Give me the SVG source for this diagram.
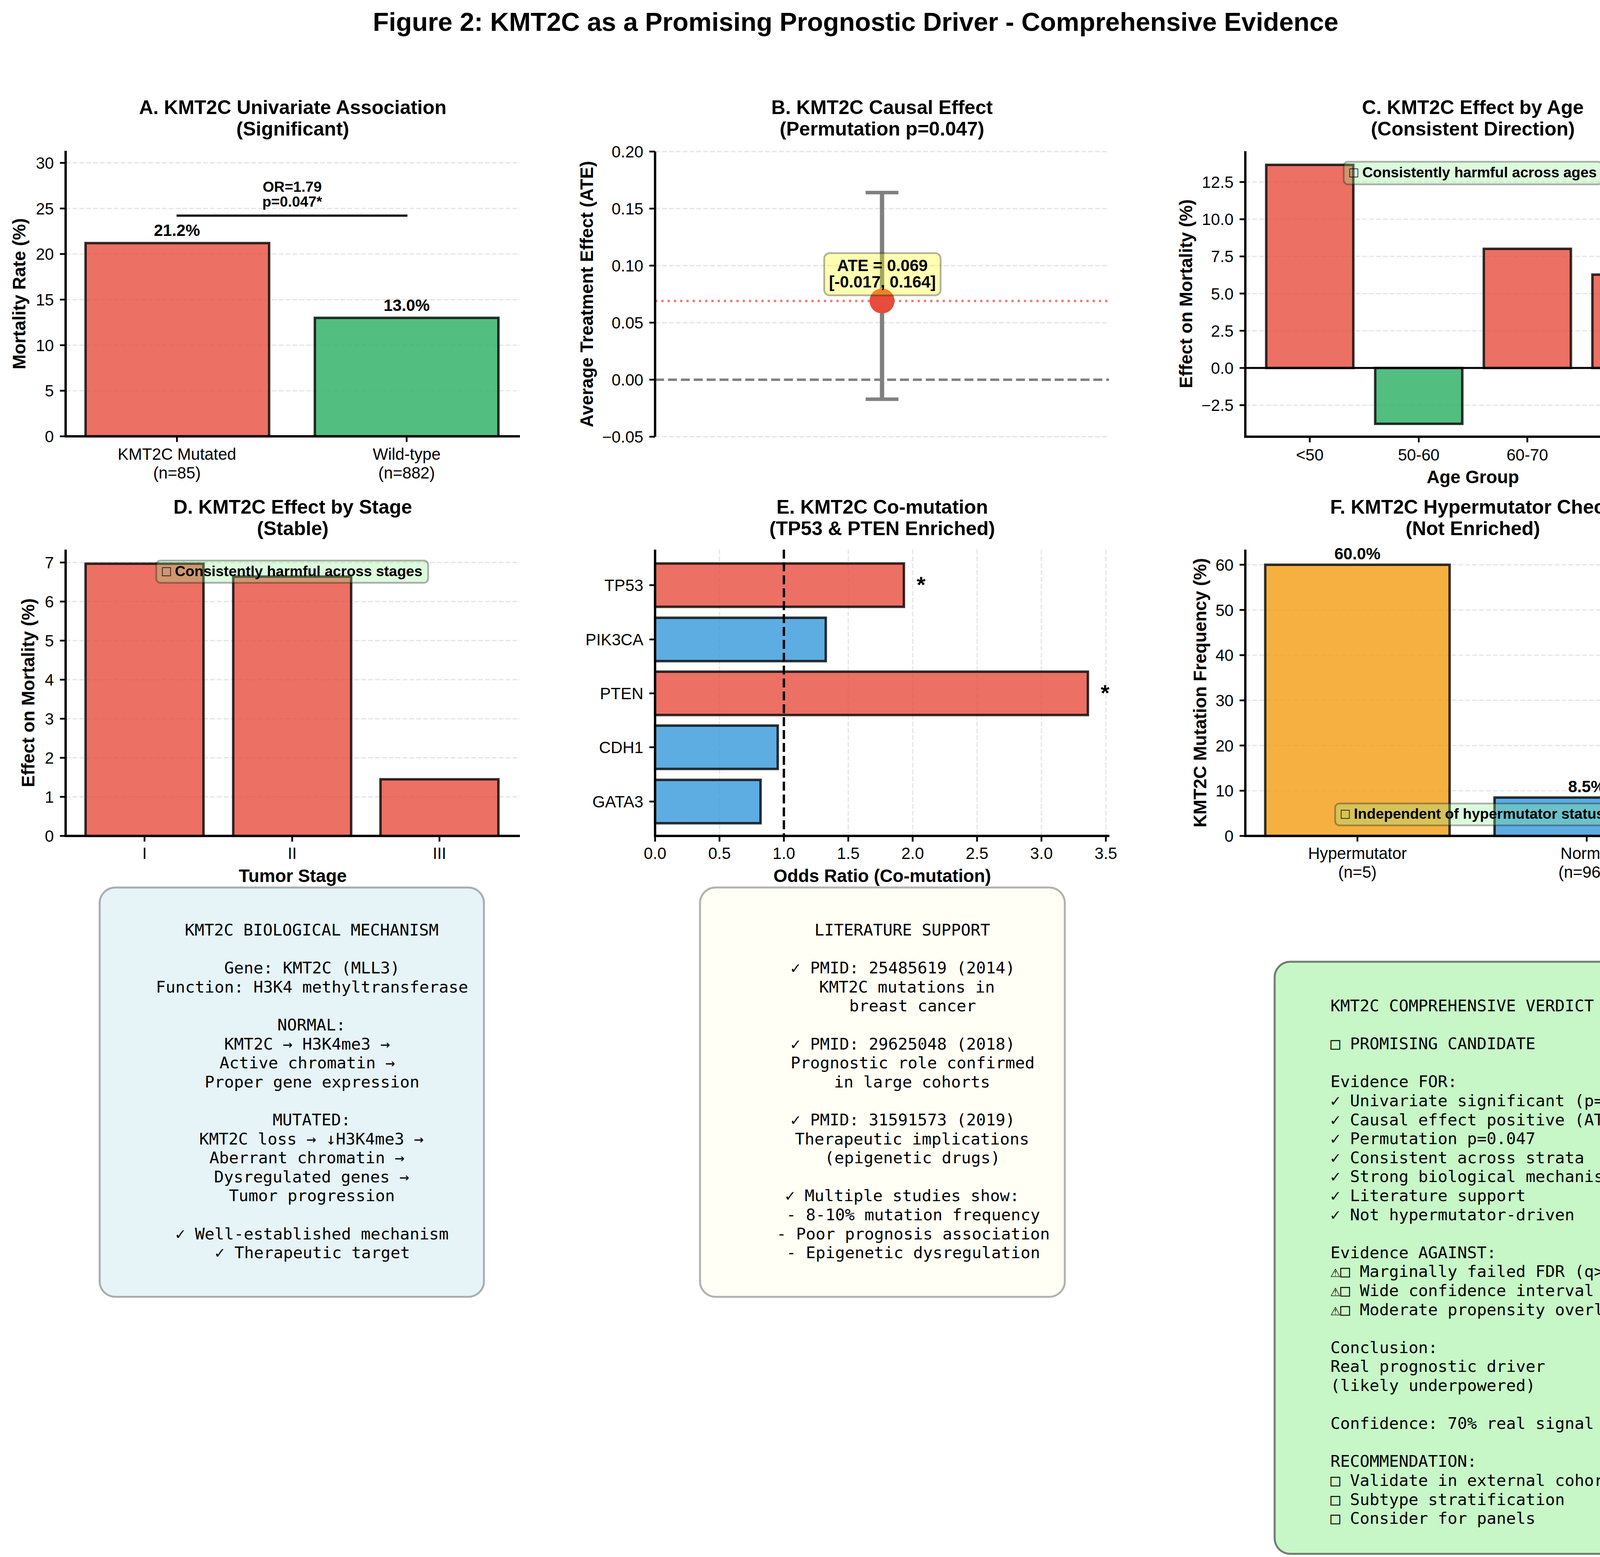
<svg xmlns="http://www.w3.org/2000/svg" width="4381" height="3986" viewBox="0 0 4381 3986">
<style>
text{font-family:"Liberation Sans",Arial,sans-serif;fill:#000}
.tk{font-size:41.7px}
.tr{text-anchor:end}
.tm{text-anchor:middle}
.ti{font-size:50px;font-weight:bold;text-anchor:middle}
.lb{font-size:45.8px;font-weight:bold;text-anchor:middle}
.vl{font-size:41.7px;font-weight:bold;text-anchor:middle}
.an{font-size:37.5px;font-weight:bold;text-anchor:middle}
.mono text{font-family:"DejaVu Sans Mono",monospace;font-size:41.5px}
.sp{stroke:#000;stroke-width:6;fill:none}
.tc{stroke:#000;stroke-width:4.5;fill:none}
.gr{stroke:#b0b0b0;stroke-opacity:0.3;stroke-width:3.3;stroke-dasharray:12.3 5.3;fill:none}
.bar{stroke:#000;stroke-opacity:0.8;stroke-width:6.25;fill-opacity:0.8}
.red{fill:#e74c3c}.grn{fill:#27ae60}.blu{fill:#3498db}.org{fill:#f39c12}
.gbox{fill:#90ee90;fill-opacity:0.3;stroke:#000;stroke-opacity:0.3;stroke-width:4.5}
</style>
<rect x="0" y="0" width="4381" height="3986" fill="#fff"/>
<text id="fig-title" x="2190.5" y="79" style="font-size:66.7px;font-weight:bold;text-anchor:middle">Figure 2: KMT2C as a Promising Prognostic Driver - Comprehensive Evidence</text>

<g id="panel-a">
<path class="gr" d="M168,1000.3H1331M168,883.7H1331M168,767H1331M168,650.3H1331M168,533.7H1331M168,417H1331"/>
<rect class="bar red" x="219" y="622.3" width="470" height="494.7"/>
<rect class="bar grn" x="806" y="813.7" width="470" height="303.3"/>
<path class="sp" d="M168,386V1117H1331"/>
<path class="tc" d="M153.4,1117h14.6M153.4,1000.3h14.6M153.4,883.7h14.6M153.4,767h14.6M153.4,650.3h14.6M153.4,533.7h14.6M153.4,417h14.6M453,1117v14.6M1041,1117v14.6"/>
<g class="tk tr"><text x="138" y="1132">0</text><text x="138" y="1015.3">5</text><text x="138" y="898.7">10</text><text x="138" y="782">15</text><text x="138" y="665.3">20</text><text x="138" y="548.7">25</text><text x="138" y="432">30</text></g>
<g class="tk tm"><text x="453" y="1177">KMT2C Mutated</text><text x="453" y="1225">(n=85)</text><text x="1041" y="1177">Wild-type</text><text x="1041" y="1225">(n=882)</text></g>
<text class="vl" x="453" y="604">21.2%</text>
<text class="vl" x="1041" y="796">13.0%</text>
<line x1="452" y1="552" x2="1043" y2="552" stroke="#000" stroke-width="5.5"/>
<text class="an" x="748" y="491">OR=1.79</text>
<text class="an" x="748" y="529">p=0.047*</text>
<text class="lb" transform="translate(65,752) rotate(-90)">Mortality Rate (%)</text>
<text class="ti" x="749.5" y="292">A. KMT2C Univariate Association</text>
<text class="ti" x="749.5" y="347">(Significant)</text>
</g>

<g id="panel-b">
<path class="gr" d="M1677,388H2839M1677,534H2839M1677,680H2839M1677,826H2839M1677,1118H2839"/>
<line x1="1677" y1="972" x2="2839" y2="972" stroke="#808080" stroke-width="6.25" stroke-dasharray="23 10"/>
<line x1="1677" y1="770.5" x2="2839" y2="770.5" stroke="#e74c3c" stroke-opacity="0.7" stroke-width="6" stroke-dasharray="6 10"/>
<line x1="2258" y1="493" x2="2258" y2="1022" stroke="#808080" stroke-width="11"/>
<path d="M2216,493H2300M2216,1022H2300" stroke="#808080" stroke-width="9"/>
<circle cx="2258" cy="770.5" r="32" fill="#e74c3c"/>
<rect x="2110" y="648" width="298" height="108" rx="14" fill="#ffff00" fill-opacity="0.3" stroke="#000" stroke-opacity="0.3" stroke-width="4.5"/>
<text class="vl" x="2259" y="694">ATE = 0.069</text>
<text class="vl" x="2259" y="736">[-0.017, 0.164]</text>
<path class="sp" d="M1677,388V1118"/>
<path class="tc" d="M1662.4,388h14.6M1662.4,534h14.6M1662.4,680h14.6M1662.4,826h14.6M1662.4,972h14.6M1662.4,1118h14.6"/>
<g class="tk tr"><text x="1647" y="403">0.20</text><text x="1647" y="549">0.15</text><text x="1647" y="695">0.10</text><text x="1647" y="841">0.05</text><text x="1647" y="987">0.00</text><text x="1647" y="1133">−0.05</text></g>
<text class="lb" transform="translate(1518,753) rotate(-90)">Average Treatment Effect (ATE)</text>
<text class="ti" x="2258" y="292">B. KMT2C Causal Effect</text>
<text class="ti" x="2258" y="347">(Permutation p=0.047)</text>
</g>

<g id="panel-c">
<path class="gr" d="M3188,1037.2H4353M3188,846.8H4353M3188,751.6H4353M3188,656.4H4353M3188,561.2H4353M3188,466H4353"/>
<rect class="bar red" x="3241.5" y="422" width="223" height="520"/>
<rect class="bar grn" x="3520.5" y="942" width="223" height="143"/>
<rect class="bar red" x="3798.5" y="637" width="223" height="305"/>
<rect class="bar red" x="4076.5" y="703" width="223" height="239"/>
<line x1="3188" y1="942" x2="4353" y2="942" stroke="#000" stroke-width="5"/>
<rect class="gbox" x="3440" y="414" width="662" height="58" rx="11"/>
<text class="an" x="3771" y="454">□ Consistently harmful across ages</text>
<path class="sp" d="M3188,387V1118H4353"/>
<path class="tc" d="M3173.4,1037.2h14.6M3173.4,942h14.6M3173.4,846.8h14.6M3173.4,751.6h14.6M3173.4,656.4h14.6M3173.4,561.2h14.6M3173.4,466h14.6M3353,1118v14.6M3632,1118v14.6M3910,1118v14.6M4188,1118v14.6"/>
<g class="tk tr"><text x="3158" y="1052.2">−2.5</text><text x="3158" y="957">0.0</text><text x="3158" y="861.8">2.5</text><text x="3158" y="766.6">5.0</text><text x="3158" y="671.4">7.5</text><text x="3158" y="576.2">10.0</text><text x="3158" y="481">12.5</text></g>
<g class="tk tm"><text x="3353" y="1179">&lt;50</text><text x="3632" y="1179">50-60</text><text x="3910" y="1179">60-70</text><text x="4188" y="1179">70+</text></g>
<text class="lb" x="3770.5" y="1237">Age Group</text>
<text class="lb" transform="translate(3052,752) rotate(-90)">Effect on Mortality (%)</text>
<text class="ti" x="3770.5" y="292">C. KMT2C Effect by Age</text>
<text class="ti" x="3770.5" y="347">(Consistent Direction)</text>
</g>

<g id="panel-d">
<path class="gr" d="M168,2040H1331M168,1940H1331M168,1840H1331M168,1740H1331M168,1640H1331M168,1540H1331M168,1440H1331"/>
<rect class="bar red" x="219" y="1443" width="302" height="697"/>
<rect class="bar red" x="597" y="1476" width="302" height="664"/>
<rect class="bar red" x="974" y="1995" width="302" height="145"/>
<rect class="gbox" x="400" y="1435" width="696" height="57" rx="11"/>
<text class="an" x="748" y="1475">□ Consistently harmful across stages</text>
<path class="sp" d="M168,1407V2140H1331"/>
<path class="tc" d="M153.4,2140h14.6M153.4,2040h14.6M153.4,1940h14.6M153.4,1840h14.6M153.4,1740h14.6M153.4,1640h14.6M153.4,1540h14.6M153.4,1440h14.6M370,2140v14.6M748,2140v14.6M1125,2140v14.6"/>
<g class="tk tr"><text x="138" y="2155">0</text><text x="138" y="2055">1</text><text x="138" y="1955">2</text><text x="138" y="1855">3</text><text x="138" y="1755">4</text><text x="138" y="1655">5</text><text x="138" y="1555">6</text><text x="138" y="1455">7</text></g>
<g class="tk tm"><text x="370" y="2199">I</text><text x="748" y="2199">II</text><text x="1125" y="2199">III</text></g>
<text class="lb" x="749.5" y="2258">Tumor Stage</text>
<text class="lb" transform="translate(88,1773.5) rotate(-90)">Effect on Mortality (%)</text>
<text class="ti" x="749.5" y="1315">D. KMT2C Effect by Stage</text>
<text class="ti" x="749.5" y="1370">(Stable)</text>
</g>

<g id="panel-e">
<path class="gr" d="M1841.9,1407V2140M2171.6,1407V2140M2336.4,1407V2140M2501.3,1407V2140M2666.1,1407V2140M2831,1407V2140"/>
<rect class="bar red" x="1677" y="1442.5" width="637" height="111"/>
<rect class="bar blu" x="1677" y="1581.5" width="437" height="111"/>
<rect class="bar red" x="1677" y="1719.5" width="1108" height="111"/>
<rect class="bar blu" x="1677" y="1857.5" width="314" height="111"/>
<rect class="bar blu" x="1677" y="1996.5" width="270" height="111"/>
<line x1="2006.7" y1="1407" x2="2006.7" y2="2140" stroke="#000" stroke-width="6" stroke-dasharray="23 10"/>
<text x="2358" y="1517" style="font-size:58px;font-weight:bold;text-anchor:middle">*</text>
<text x="2829" y="1794" style="font-size:58px;font-weight:bold;text-anchor:middle">*</text>
<path class="sp" d="M1677,1407V2140H2840"/>
<path class="tc" d="M1662.4,1498h14.6M1662.4,1637h14.6M1662.4,1775h14.6M1662.4,1913h14.6M1662.4,2052h14.6M1677,2140v14.6M1841.9,2140v14.6M2006.7,2140v14.6M2171.6,2140v14.6M2336.4,2140v14.6M2501.3,2140v14.6M2666.1,2140v14.6M2831,2140v14.6"/>
<g class="tk tr"><text x="1647" y="1513">TP53</text><text x="1647" y="1652">PIK3CA</text><text x="1647" y="1790">PTEN</text><text x="1647" y="1928">CDH1</text><text x="1647" y="2067">GATA3</text></g>
<g class="tk tm"><text x="1677" y="2199">0.0</text><text x="1841.9" y="2199">0.5</text><text x="2006.7" y="2199">1.0</text><text x="2171.6" y="2199">1.5</text><text x="2336.4" y="2199">2.0</text><text x="2501.3" y="2199">2.5</text><text x="2666.1" y="2199">3.0</text><text x="2831" y="2199">3.5</text></g>
<text class="lb" x="2258.5" y="2258">Odds Ratio (Co-mutation)</text>
<text class="ti" x="2258.5" y="1315">E. KMT2C Co-mutation</text>
<text class="ti" x="2258.5" y="1370">(TP53 &amp; PTEN Enriched)</text>
</g>

<g id="panel-f">
<path class="gr" d="M3188,2024.3H4353M3188,1908.6H4353M3188,1792.9H4353M3188,1677.2H4353M3188,1561.5H4353M3188,1445.8H4353"/>
<rect class="bar org" x="3239" y="1445.8" width="472" height="694.2"/>
<rect class="bar blu" x="3826" y="2041.7" width="472" height="98.3"/>
<text class="vl" x="3475" y="1432">60.0%</text>
<text class="vl" x="4062" y="2028">8.5%</text>
<rect class="gbox" x="3418" y="2057" width="703" height="56" rx="11"/>
<text class="an" x="3770" y="2096">□ Independent of hypermutator status</text>
<path class="sp" d="M3188,1407V2140H4353"/>
<path class="tc" d="M3173.4,2140h14.6M3173.4,2024.3h14.6M3173.4,1908.6h14.6M3173.4,1792.9h14.6M3173.4,1677.2h14.6M3173.4,1561.5h14.6M3173.4,1445.8h14.6M3475,2140v14.6M4062,2140v14.6"/>
<g class="tk tr"><text x="3158" y="2155">0</text><text x="3158" y="2039.3">10</text><text x="3158" y="1923.6">20</text><text x="3158" y="1807.9">30</text><text x="3158" y="1692.2">40</text><text x="3158" y="1576.5">50</text><text x="3158" y="1460.8">60</text></g>
<g class="tk tm"><text x="3475" y="2199">Hypermutator</text><text x="3475" y="2247">(n=5)</text><text x="4062" y="2199">Normal</text><text x="4062" y="2247">(n=962)</text></g>
<text class="lb" transform="translate(3088,1773.5) rotate(-90)">KMT2C Mutation Frequency (%)</text>
<text class="ti" x="3770.5" y="1315">F. KMT2C Hypermutator Check</text>
<text class="ti" x="3770.5" y="1370">(Not Enriched)</text>
</g>

<g id="box-mechanism">
<rect x="255" y="2272" width="984" height="1048" rx="40" fill="#add8e6" fill-opacity="0.3" stroke="#000" stroke-opacity="0.3" stroke-width="5"/>
<g class="mono">
<text x="473" y="2395">KMT2C BIOLOGICAL MECHANISM</text>
<text x="574" y="2492.2">Gene: KMT2C (MLL3)</text>
<text x="399" y="2540.8">Function: H3K4 methyltransferase</text>
<text x="710" y="2638">NORMAL:</text>
<text x="574" y="2686.6">KMT2C → H3K4me3 →</text>
<text x="562" y="2735.2">Active chromatin →</text>
<text x="524" y="2783.8">Proper gene expression</text>
<text x="698" y="2881">MUTATED:</text>
<text x="510" y="2929.6">KMT2C loss → ↓H3K4me3 →</text>
<text x="536" y="2978.2">Aberrant chromatin →</text>
<text x="548" y="3026.8">Dysregulated genes →</text>
<text x="586" y="3075.4">Tumor progression</text>
<text x="449" y="3172.6">✓ Well-established mechanism</text>
<text x="550" y="3221.2">✓ Therapeutic target</text>
</g>
</g>

<g id="box-literature">
<rect x="1792" y="2272" width="934" height="1048" rx="40" fill="#ffffe0" fill-opacity="0.3" stroke="#000" stroke-opacity="0.3" stroke-width="5"/>
<g class="mono">
<text x="2085" y="2395">LITERATURE SUPPORT</text>
<text x="2024" y="2492.2">✓ PMID: 25485619 (2014)</text>
<text x="2097" y="2540.8">KMT2C mutations in</text>
<text x="2174" y="2589.4">breast cancer</text>
<text x="2024" y="2686.6">✓ PMID: 29625048 (2018)</text>
<text x="2024" y="2735.2">Prognostic role confirmed</text>
<text x="2135" y="2783.8">in large cohorts</text>
<text x="2024" y="2881">✓ PMID: 31591573 (2019)</text>
<text x="2035" y="2929.6">Therapeutic implications</text>
<text x="2111" y="2978.2">(epigenetic drugs)</text>
<text x="2010" y="3075.4">✓ Multiple studies show:</text>
<text x="2013" y="3124">- 8-10% mutation frequency</text>
<text x="1988" y="3172.6">- Poor prognosis association</text>
<text x="2013" y="3221.2">- Epigenetic dysregulation</text>
</g>
</g>

<g id="box-verdict">
<rect x="3263" y="2462" width="1085" height="1516" rx="40" fill="#90ee90" fill-opacity="0.5" stroke="#000" stroke-opacity="0.5" stroke-width="5"/>
<g class="mono">
<text x="3406" y="2589">KMT2C COMPREHENSIVE VERDICT</text>
<text x="3406" y="2686.2">□ PROMISING CANDIDATE</text>
<text x="3406" y="2783.4">Evidence FOR:</text>
<text x="3406" y="2832">✓ Univariate significant (p=0.047)</text>
<text x="3406" y="2880.6">✓ Causal effect positive (ATE=0.069)</text>
<text x="3406" y="2929.2">✓ Permutation p=0.047</text>
<text x="3406" y="2977.8">✓ Consistent across strata</text>
<text x="3406" y="3026.4">✓ Strong biological mechanism</text>
<text x="3406" y="3075">✓ Literature support</text>
<text x="3406" y="3123.6">✓ Not hypermutator-driven</text>
<text x="3406" y="3220.8">Evidence AGAINST:</text>
<text x="3406" y="3269.4">⚠□ Marginally failed FDR (q&gt;0.05)</text>
<text x="3406" y="3318">⚠□ Wide confidence interval</text>
<text x="3406" y="3366.6">⚠□ Moderate propensity overlap</text>
<text x="3406" y="3463.8">Conclusion:</text>
<text x="3406" y="3512.4">Real prognostic driver</text>
<text x="3406" y="3561">(likely underpowered)</text>
<text x="3406" y="3658.2">Confidence: 70% real signal</text>
<text x="3406" y="3755.4">RECOMMENDATION:</text>
<text x="3406" y="3804">□ Validate in external cohorts</text>
<text x="3406" y="3852.6">□ Subtype stratification</text>
<text x="3406" y="3901.2">□ Consider for panels</text>
</g>
</g>
</svg>
